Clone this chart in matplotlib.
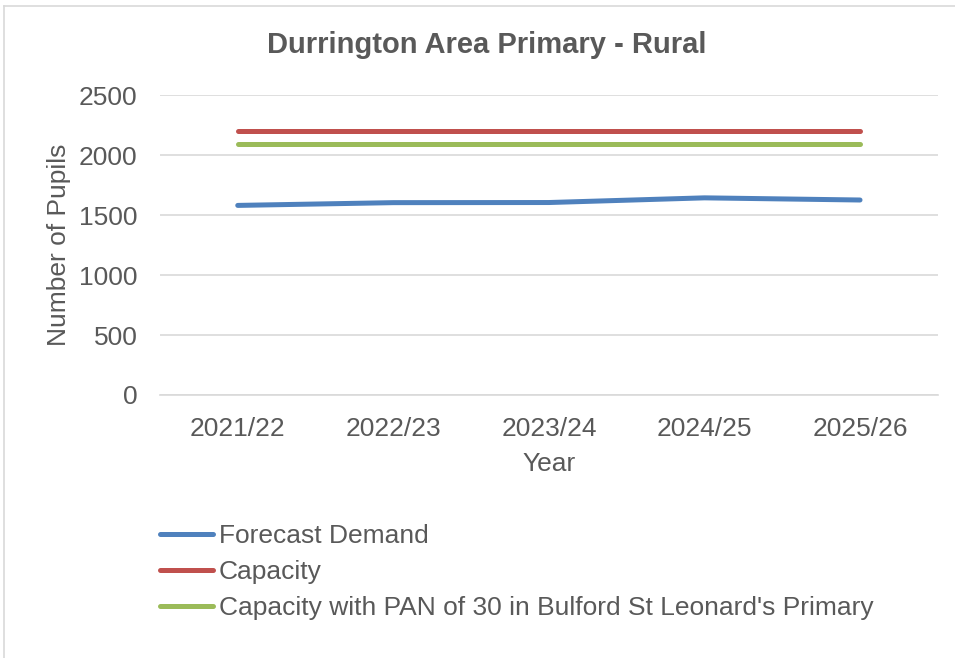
import matplotlib.pyplot as plt
from matplotlib.lines import Line2D

plt.rcParams['font.family'] = ['Liberation Sans', 'DejaVu Sans']

years = ['2021/22', '2022/23', '2023/24', '2024/25', '2025/26']
forecast = [1580, 1603, 1604, 1643, 1625]
capacity = [2200, 2200, 2200, 2200, 2200]
capacity_pan = [2095, 2095, 2095, 2095, 2095]

grey = '#595959'

fig = plt.figure(figsize=(9.55, 6.58), dpi=100)
ax = fig.add_axes([0.1675, 0.3997, 0.8145, 0.4559])

x = range(len(years))
ax.plot(x, forecast, color='#4F81BD', lw=3.6, solid_capstyle='round', label='Forecast Demand')
ax.plot(x, capacity, color='#C0504D', lw=3.6, solid_capstyle='round', label='Capacity')
ax.plot(x, capacity_pan, color='#9BBB59', lw=3.6, solid_capstyle='round',
        label="Capacity with PAN of 30 in Bulford St Leonard's Primary")

ax.set_xlim(-0.5, len(years) - 0.5)
ax.set_ylim(0, 2500)
ax.set_yticks(range(0, 2501, 500))
ax.set_xticks(list(x))
ax.set_xticklabels(years)
ax.grid(axis='y', color='#D9D9D9', lw=1.2)
ax.set_axisbelow(True)
for s in ['top', 'right', 'left']:
    ax.spines[s].set_visible(False)
ax.spines['bottom'].set_color('#D9D9D9')
ax.spines['bottom'].set_linewidth(1.2)
ax.tick_params(axis='both', length=0, labelsize=19, colors=grey)
ax.tick_params(axis='y', pad=16)
ax.tick_params(axis='x', pad=16)

ax.set_xlabel('Year', fontsize=19, color=grey, labelpad=8)
ax.set_ylabel('Number of Pupils', fontsize=19, color=grey, labelpad=6)
fig.text(0.51, 0.931, 'Durrington Area Primary - Rural', ha='center', va='center',
         fontsize=21, fontweight='bold', color=grey)

leg = fig.legend(loc='upper left', bbox_to_anchor=(0.157, 0.2196), frameon=False,
                 fontsize=19, handlelength=2.0, handletextpad=0.2, labelspacing=0.45,
                 borderaxespad=0)
for t in leg.get_texts():
    t.set_color(grey)

# chart border
fig.add_artist(Line2D([4 / 955, 4 / 955], [0, 1 - 6 / 658], color='#D9D9D9', lw=1.2))
fig.add_artist(Line2D([4 / 955, 1], [1 - 6 / 658, 1 - 6 / 658], color='#D9D9D9', lw=1.2))

fig.savefig('out.png', dpi=100)
